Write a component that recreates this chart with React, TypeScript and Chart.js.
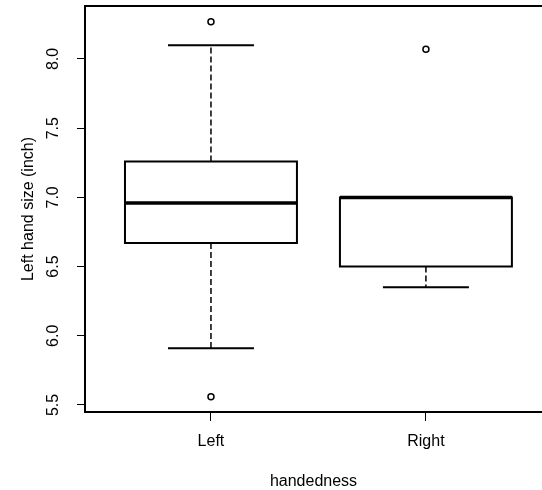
import React, { useEffect, useRef } from 'react';
import { Chart, registerables } from 'chart.js';

Chart.register(...registerables);

// ---- data ----
const categories = ['Left', 'Right'];
const lowerWhisker = [5.91, 6.35];
const lowerQuartile = [6.67, 6.5];
const medians = [6.96, 7.0];
const upperQuartile = [7.26, 7.0];
const upperWhisker = [8.1, 7.0];
const outliers = [[8.27, 5.56], [8.07]];
const yTicks = [5.5, 6.0, 6.5, 7.0, 7.5, 8.0];

// ---- styling constants ----
const BOX_HALF = 0.4;
const CAP_HALF = 0.2;
const FONT = { family: '"Liberation Sans", Arial, sans-serif', size: 16 };

type P = { x: number; y: number | null };

function buildData() {
  const box: P[] = [];
  const med: P[] = [];
  const whisk: P[] = [];
  const caps: P[] = [];
  const outs: P[] = [];
  categories.forEach((_, i) => {
    const c = i + 1;
    const q1 = lowerQuartile[i];
    const q3 = upperQuartile[i];
    box.push(
      { x: c - BOX_HALF, y: q1 },
      { x: c + BOX_HALF, y: q1 },
      { x: c + BOX_HALF, y: q3 },
      { x: c - BOX_HALF, y: q3 },
      { x: c - BOX_HALF, y: q1 },
      { x: c, y: null }
    );
    med.push({ x: c - BOX_HALF, y: medians[i] }, { x: c + BOX_HALF, y: medians[i] }, { x: c, y: null });
    whisk.push(
      { x: c, y: q3 },
      { x: c, y: upperWhisker[i] },
      { x: c, y: null },
      { x: c, y: q1 },
      { x: c, y: lowerWhisker[i] },
      { x: c, y: null }
    );
    caps.push(
      { x: c - CAP_HALF, y: upperWhisker[i] },
      { x: c + CAP_HALF, y: upperWhisker[i] },
      { x: c, y: null },
      { x: c - CAP_HALF, y: lowerWhisker[i] },
      { x: c + CAP_HALF, y: lowerWhisker[i] },
      { x: c, y: null }
    );
    outliers[i].forEach((v) => outs.push({ x: c, y: v }));
  });
  return { box, med, whisk, caps, outs };
}

const framePlugin = {
  id: 'frameTop',
  afterDatasetsDraw(chart: any) {
    const { ctx, chartArea } = chart;
    ctx.save();
    ctx.strokeStyle = '#000';
    ctx.lineWidth = 2;
    ctx.beginPath();
    ctx.moveTo(chartArea.left - 1, chartArea.top);
    ctx.lineTo(chartArea.right, chartArea.top);
    ctx.stroke();
    ctx.restore();
  },
};

export default function App() {
  const ref = useRef<HTMLCanvasElement>(null);

  useEffect(() => {
    document.body.style.margin = '0';
    const { box, med, whisk, caps, outs } = buildData();
    const lineBase = {
      type: 'line' as const,
      borderColor: '#000',
      pointRadius: 0,
      pointHoverRadius: 0,
      fill: false,
      tension: 0,
      spanGaps: false,
    };
    const chart = new Chart(ref.current!, {
      type: 'line',
      data: {
        datasets: [
          { ...lineBase, label: 'box', data: box, borderWidth: 2, borderJoinStyle: 'miter', borderCapStyle: 'square' },
          { ...lineBase, label: 'whisker', data: whisk, borderWidth: 1.5, borderDash: [6, 3] },
          { ...lineBase, label: 'cap', data: caps, borderWidth: 2 },
          { ...lineBase, label: 'median', data: med, borderWidth: 3.5 },
          {
            ...lineBase,
            label: 'outlier',
            data: outs,
            showLine: false,
            pointRadius: 3,
            pointBorderWidth: 1.5,
            pointBackgroundColor: '#fff',
            pointBorderColor: '#000',
          },
        ] as any,
      },
      options: {
        animation: false,
        responsive: false,
        devicePixelRatio: 1,
        layout: { autoPadding: false, padding: { top: 6, right: 0, bottom: 0, left: 0 } },
        plugins: { legend: { display: false }, tooltip: { enabled: false } },
        events: [],
        scales: {
          x: {
            type: 'linear',
            min: 0.414,
            max: 2.54,
            afterBuildTicks: (s: any) => {
              s.ticks = categories.map((_, i) => ({ value: i + 1 }));
            },
            afterFit: (s: any) => {
              s.height = 78;
              s.paddingLeft = 0;
              s.paddingRight = 0;
            },
            ticks: {
              color: '#000',
              font: FONT,
              padding: 11,
              maxRotation: 0,
              minRotation: 0,
              callback: (v: any) => categories[Math.round(Number(v)) - 1] ?? '',
            },
            grid: { drawOnChartArea: false, drawTicks: true, tickLength: 9, color: '#000', lineWidth: 1 },
            border: { display: true, color: '#000', width: 2 },
            title: {
              display: true,
              text: 'handedness',
              color: '#000',
              font: { ...FONT, lineHeight: 1 },
              padding: { top: 0, bottom: 0 },
            },
          },
          y: {
            type: 'linear',
            min: 5.449,
            max: 8.383,
            afterBuildTicks: (s: any) => {
              s.ticks = yTicks.map((v) => ({ value: v }));
            },
            afterFit: (s: any) => {
              s.width = 85;
              s.paddingTop = 0;
              s.paddingBottom = 0;
            },
            ticks: {
              color: '#000',
              font: FONT,
              padding: 12,
              minRotation: 90,
              maxRotation: 90,
              crossAlign: 'center',
              callback: (v: any) => Number(v).toFixed(1),
            },
            grid: { drawOnChartArea: false, drawTicks: true, tickLength: 8, color: '#000', lineWidth: 1 },
            border: { display: true, color: '#000', width: 2 },
            title: {
              display: true,
              text: 'Left hand size (inch)',
              color: '#000',
              font: { ...FONT, lineHeight: 1 },
              padding: { top: 20.5, bottom: 0 },
            },
          },
        },
      },
      plugins: [framePlugin],
    });
    return () => chart.destroy();
  }, []);

  return (
    <div style={{ width: 542, height: 490, background: '#fff' }}>
      <canvas ref={ref} width={542} height={490} style={{ display: 'block', width: 542, height: 490 }} />
    </div>
  );
}
